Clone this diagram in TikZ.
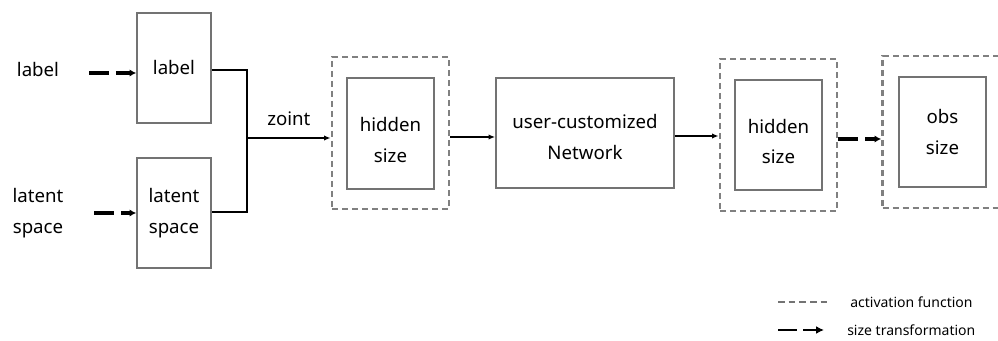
\documentclass[tikz,border=0pt]{standalone}
\usepackage{fontspec}
\setmainfont{Noto Sans}
\usetikzlibrary{arrows.meta}
\begin{document}
\begin{tikzpicture}[x=0.75pt,y=-0.75pt,
  txt/.style={font=\fontsize{14}{23}\selectfont, align=center, inner sep=0pt},
  box/.style={draw=black!55, line width=1.2pt, txt},
  actbox/.style={draw=black!50, line width=2pt, dash pattern=on 4.5pt off 3pt},
  conn/.style={line width=1.1pt, -{Latex[length=5pt,width=4pt]}},
  sizet/.style={line width=2.4pt, dash pattern=on 15pt off 5pt, -{Latex[length=5pt,width=5.5pt]}},
  legtxt/.style={font=\fontsize{10.5}{12}\selectfont, anchor=west, inner sep=0pt}]
\useasboundingbox (0,0) rectangle (998,341);
% left texts
\node[txt] (tlab) at (38,70) {label};
\node[txt] (tlat) at (38,213) {latent\\space};
% boxes
\node[box, minimum width=55.5pt, minimum height=82.5pt] (blab) at (174,68) {label};
\node[box, minimum width=55.5pt, minimum height=82.5pt] (blat) at (174,213) {latent\\space};
\node[actbox, minimum width=87.75pt, minimum height=114pt] (o1) at (390.5,133) {};
\node[box, minimum width=65.25pt, minimum height=83.25pt,
  label={[txt, yshift=-5pt]center:{hidden\\size}}] (h1) at (390.5,133.5) {};
\node[box, minimum width=133.5pt, minimum height=82.5pt,
  label={[txt, yshift=-3pt]center:{user-customized\\Network}}] (net) at (585,133) {};
\node[actbox, minimum width=87.75pt, minimum height=114pt] (o2) at (778.5,135) {};
\node[box, minimum width=65.25pt, minimum height=82.5pt,
  label={[txt, yshift=-5pt]center:{hidden\\size}}] (h2) at (778.5,135) {};
\node[actbox, minimum width=87.75pt, minimum height=114pt] (o3) at (941,132) {};
\node[box, minimum width=65.25pt, minimum height=82.5pt] (obs) at (942.5,132) {obs\\size};
% size transformation arrows
\draw[sizet, shorten <=22.5pt] (tlab.east |- 0,73) -- (blab.west |- 0,73);
\draw[sizet, shorten <=23pt] (tlat.east |- 0,213) -- (blat.west |- 0,213);
\draw[sizet] (o2.east |- 0,139) -- (o3.west |- 0,139);
% merge
\coordinate (j) at (247,138);
\draw[line width=1.1pt] (blab.east |- 0,70) -| (j) |- (blat.east |- 0,212);
\draw[conn] (j) -- node[txt, above=9pt, pos=0.5] (zo) {zoint} (o1.west |- j);
\draw[conn] (o1.east |- 0,137) -- (net.west |- 0,137);
\draw[conn] (net.east |- 0,136) -- (o2.west |- 0,136);
% legend
\coordinate (l1a) at (778,302); \coordinate (l1b) at (830,302);
\draw[draw=black!55, line width=0.9pt, dash pattern=on 5pt off 3pt] (l1a) -- (l1b);
\node[legtxt] (lt1) at (850,302) {activation function};
\coordinate (l2a) at (778,330); \coordinate (l2b) at (824,330);
\draw[line width=2.2pt, dash pattern=on 14pt off 5pt, -{Latex[length=6pt,width=6pt]}] (l2a) -- (l2b);
\node[legtxt] (lt2) at (847,330) {size transformation};
\end{tikzpicture}
\end{document}
